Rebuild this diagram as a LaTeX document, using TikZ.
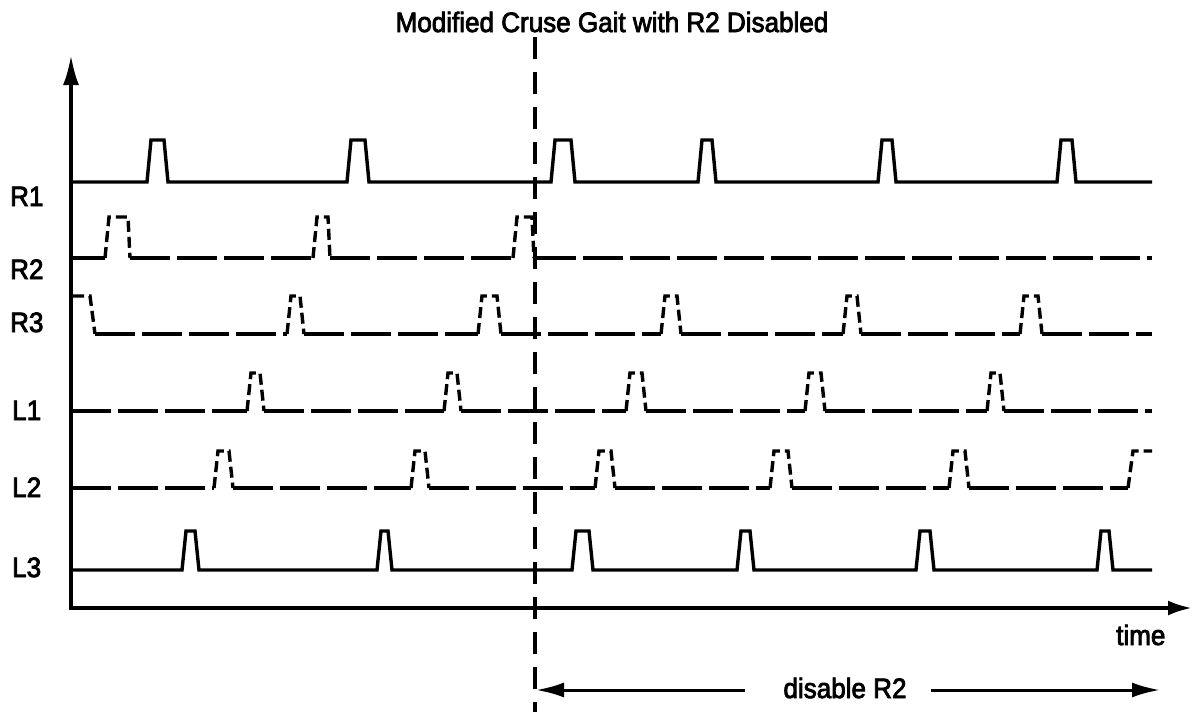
\documentclass[tikz,border=0pt]{standalone}
\usepackage{fontspec}
\setmainfont{Liberation Sans}
\newfontfamily\lblfont{Liberation Sans}[FakeBold=3]
\usetikzlibrary{arrows.meta}
\newcommand\narrowtxt[1]{\scalebox{0.93}[1]{#1}}
\begin{document}
\begin{tikzpicture}[x=1pt,y=-1pt,
  txt/.style={font=\lblfont\fontsize{28}{30}\selectfont, inner sep=0pt, anchor=base west},
  sig/.style={line width=3.4pt, line join=miter, line cap=butt},
  dbase/.style={sig, dash pattern=on 40pt off 7pt},
  dpul/.style={sig, dash pattern=on 11pt off 5pt},
  axis/.style={line width=3.6pt, {Latex[length=30pt,width=16pt]}-{Latex[length=24pt,width=15pt]}},
  marker/.style={line width=3.2pt, dash pattern=on 22pt off 13pt},
  spanarrow/.style={line width=3pt, -{Latex[length=28pt,width=15pt]}}]
\useasboundingbox (0,0) rectangle (1194,712);

% title
\node[txt,anchor=base] (title) at (612,32) {\narrowtxt{Modified Cruse Gait with R2 Disabled}};

% axes
\coordinate (O) at (71,608);
\coordinate (ytip) at (71,55);
\coordinate (xtip) at (1192,608);
\draw[axis] (ytip) -- (O) -- (xtip);

% row labels
\node[txt] (lR1) at (10,206) {\narrowtxt{R1}};
\node[txt] (lR2) at (10,279) {\narrowtxt{R2}};
\node[txt] (lR3) at (10,332) {\narrowtxt{R3}};
\node[txt] (lL1) at (12,420) {\narrowtxt{L1}};
\node[txt] (lL2) at (12,497) {\narrowtxt{L2}};
\node[txt] (lL3) at (12,577) {\narrowtxt{L3}};

% R1 (solid)
\draw[sig] (71,182)
  \foreach \a/\b in {147/168,347/369,551/575,698/716,878/896,1057/1076}
  { -- (\a,182) -- (\a+4,140) -- (\b-4,140) -- (\b,182) } -- (1152,182);

% L3 (solid)
\draw[sig] (71,570)
  \foreach \a/\b in {182/199,377/392,572/593,737/754,916/934,1097/1113}
  { -- (\a,570) -- (\a+4,531) -- (\b-4,531) -- (\b,570) } -- (1152,570);

% R2 (dashed)
\draw[sig] (71,258) -- (105,258);
\foreach \a/\b [remember=\b as \prev (initially 105)] in {105/130,313/330,513/534} {
  \draw[dbase] (\prev,258) -- (\a,258);
  \draw[dpul] (\a,258) -- (\a+4,217) -- (\b-2,217) -- (\b,258);
}
\draw[dbase] (536,258) -- (1152,258);

% R3 (dashed)
\draw[dpul] (73,296) -- (90,296) -- (95,334);
\foreach \a/\b [remember=\b as \prev (initially 95)] in {287/304,478/501,661/681,843/861,1020/1042} {
  \draw[dbase] (\prev,334) -- (\a,334);
  \draw[dpul] (\a,334) -- (\a+4,296) -- (\b-4,296) -- (\b,334);
}
\draw[dbase] (1042,334) -- (1152,334);

% L1 (dashed)
\foreach \a/\b [remember=\b as \prev (initially 71)] in {247/264,444/461,626/646,805/825,987/1004} {
  \draw[dbase] (\prev,411) -- (\a,411);
  \draw[dpul] (\a,411) -- (\a+4,373) -- (\b-4,373) -- (\b,411);
}
\draw[dbase] (1004,411) -- (1152,411);

% L2 (dashed)
\foreach \a/\b [remember=\b as \prev (initially 71)] in {214/233,411/429,595/615,770/792,949/969} {
  \draw[dbase] (\prev,488) -- (\a,488);
  \draw[dpul] (\a,488) -- (\a+4,451) -- (\b-4,451) -- (\b,488);
}
\draw[dbase] (969,488) -- (1128,488);
\draw[dpul] (1128,488) -- (1133,451) -- (1152,451);

% marker line
\coordinate (mtop) at (535,37);
\coordinate (mbot) at (535,712);
\draw[marker] (mtop) -- (mbot);

% time label
\node[txt] (time) at (1116,645) {\narrowtxt{time}};

% disable R2 span
\node[txt,anchor=base] (dis) at (845,698) {\narrowtxt{disable R2}};
\coordinate (dl) at (536,690);
\coordinate (dr) at (1160,690);
\coordinate (dlin) at (745,690);
\coordinate (drin) at (931,690);
\draw[spanarrow] (dlin) -- (dl);
\draw[spanarrow] (drin) -- (dr);
\end{tikzpicture}
\end{document}
